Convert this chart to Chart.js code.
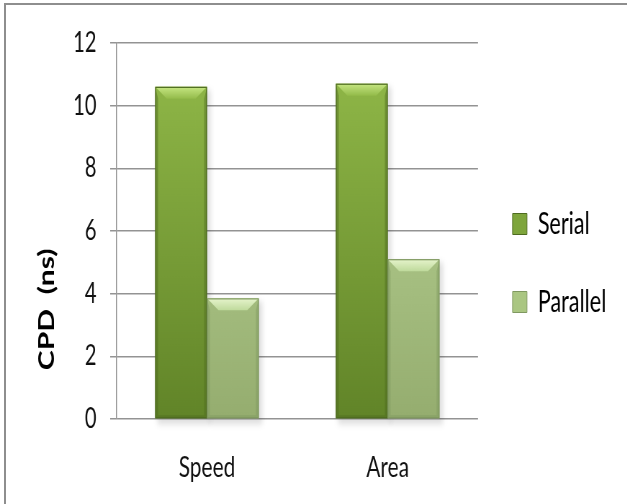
<!DOCTYPE html>
<html>
<head>
<meta charset="utf-8">
<script src="https://cdn.jsdelivr.net/npm/chart.js@4/dist/chart.umd.min.js"></script>
<style>
  html, body { margin: 0; padding: 0; background: #fff; overflow: hidden; }
  #frame { position: absolute; left: 4px; top: 3px; width: 700px; height: 600px; border: 2px solid #8e8e8e; box-sizing: border-box; }
  /* the original picture is squeezed sideways, so draw wide and scale it down */
  #wrap { position: absolute; left: 0; top: 0; width: 871px; height: 504px; transform: scaleX(0.72); transform-origin: 0 0; }
</style>
</head>
<body>
<div id="frame"></div>
<div id="wrap"><canvas id="chart" width="871" height="504"></canvas></div>
<script>
(function () {
  var categories = ['Speed', 'Area'];
  var serialValues = [10.6, 10.7];
  var parallelValues = [3.85, 5.1];
  var yTicks = [0, 2, 4, 6, 8, 10, 12];
  var yTitle = 'CPD  (ns)';

  var FONT = 'Lato, "Open Sans", sans-serif';

  var styles = [
    { main: '#7ea53c', light: '#93bb4a', dark: '#618428', top: '#c6e682', edge: '#4e6b20' },
    { main: '#aac682', light: '#bfda9c', dark: '#95ad6f', top: '#e6f4cc', edge: '#7f9860' }
  ];

  function barFill(idx) {
    return function (context) {
      var chart = context.chart;
      var area = chart.chartArea;
      var s = styles[idx];
      if (!area) return s.main;
      var g = chart.ctx.createLinearGradient(0, area.top, 0, area.bottom);
      g.addColorStop(0, s.light);
      g.addColorStop(1, s.dark);
      return g;
    };
  }

  // bevel + shadow drawn around the bars the library placed
  var bevel = {
    id: 'bevel',
    beforeDatasetsDraw: function (chart) {
      var ctx = chart.ctx;
      chart.data.datasets.forEach(function (ds, di) {
        chart.getDatasetMeta(di).data.forEach(function (bar) {
          var p = bar.getProps(['x', 'y', 'base', 'width'], true);
          var l = p.x - p.width / 2;
          ctx.save();
          ctx.fillStyle = 'rgba(0,0,0,0.13)';
          ctx.filter = 'blur(3px)';
          ctx.fillRect(l + 3, p.y + 3, p.width + 2, p.base - p.y + 3);
          ctx.restore();
        });
      });
    },
    afterDatasetsDraw: function (chart) {
      var ctx = chart.ctx;
      chart.data.datasets.forEach(function (ds, di) {
        var s = styles[di];
        chart.getDatasetMeta(di).data.forEach(function (bar) {
          var p = bar.getProps(['x', 'y', 'base', 'width'], true);
          var l = p.x - p.width / 2, r = p.x + p.width / 2, t = p.y, b = p.base;
          var hx = 16, hy = 12, e = 4;
          ctx.save();
          ctx.fillStyle = s.edge;
          ctx.globalAlpha = 0.45;
          ctx.beginPath();
          ctx.moveTo(l, t); ctx.lineTo(l + e, t + hy); ctx.lineTo(l + e, b - 3); ctx.lineTo(l, b);
          ctx.closePath(); ctx.fill();
          ctx.beginPath();
          ctx.moveTo(r, t); ctx.lineTo(r - e, t + hy); ctx.lineTo(r - e, b - 3); ctx.lineTo(r, b);
          ctx.closePath(); ctx.fill();
          ctx.beginPath();
          ctx.moveTo(l, b); ctx.lineTo(l + e, b - 3); ctx.lineTo(r - e, b - 3); ctx.lineTo(r, b);
          ctx.closePath(); ctx.fill();
          ctx.globalAlpha = 1;
          var g = ctx.createLinearGradient(0, t, 0, t + hy);
          g.addColorStop(0, s.top);
          g.addColorStop(1, s.light);
          ctx.fillStyle = g;
          ctx.beginPath();
          ctx.moveTo(l, t); ctx.lineTo(r, t); ctx.lineTo(r - hx, t + hy); ctx.lineTo(l + hx, t + hy);
          ctx.closePath(); ctx.fill();
          ctx.strokeStyle = s.edge;
          ctx.lineWidth = 1.2;
          ctx.strokeRect(l + 0.5, t + 0.5, r - l - 1, b - t - 1);
          ctx.restore();
        });
      });
    }
  };

  // rotated axis title, sitting low like the original
  var sideTitle = {
    id: 'sideTitle',
    afterDraw: function (chart) {
      var ctx = chart.ctx;
      var y = chart.scales.y;
      ctx.save();
      ctx.translate(65, y.getPixelForValue(3.5));
      ctx.rotate(-Math.PI / 2);
      ctx.font = 'bold 30px ' + FONT;
      ctx.fillStyle = '#000';
      ctx.textAlign = 'center';
      ctx.textBaseline = 'middle';
      ctx.fillText(yTitle, 0, 0);
      ctx.restore();
    }
  };

  new Chart(document.getElementById('chart'), {
    type: 'bar',
    data: {
      labels: categories,
      datasets: [
        { label: 'Serial', data: serialValues, backgroundColor: barFill(0), borderWidth: 0 },
        { label: 'Parallel', data: parallelValues, backgroundColor: barFill(1), borderWidth: 0 }
      ]
    },
    options: {
      responsive: false,
      animation: false,
      devicePixelRatio: 1,
      barPercentage: 1,
      categoryPercentage: 0.573,
      layout: { padding: { top: 43, right: 19, bottom: 21, left: 0 } },
      plugins: {
        tooltip: { enabled: false },
        legend: {
          position: 'right',
          labels: {
            font: { family: FONT, size: 30 },
            color: '#222',
            boxWidth: 20,
            boxHeight: 21,
            padding: 48,
            generateLabels: function (chart) {
              return chart.data.datasets.map(function (ds, i) {
                return {
                  text: ds.label,
                  fillStyle: styles[i].main,
                  strokeStyle: styles[i].edge,
                  lineWidth: 1,
                  datasetIndex: i
                };
              });
            }
          }
        }
      },
      scales: {
        x: {
          afterFit: function (scale) { scale.height = 64; },
          grid: { display: false, drawTicks: false },
          border: { display: false },
          ticks: { font: { family: FONT, size: 29 }, color: '#111', padding: 31 }
        },
        y: {
          min: 0,
          max: 12,
          afterBuildTicks: function (scale) {
            scale.ticks = yTicks.map(function (v) { return { value: v }; });
          },
          afterFit: function (scale) { scale.width = 162; },
          grid: { color: '#939393', lineWidth: 1.5, tickLength: 9 },
          border: { display: true, color: '#939393', width: 1.5 },
          ticks: { font: { family: FONT, size: 28 }, color: '#111', padding: 19 }
        }
      }
    },
    plugins: [bevel, sideTitle]
  });
})();
</script>
</body>
</html>
